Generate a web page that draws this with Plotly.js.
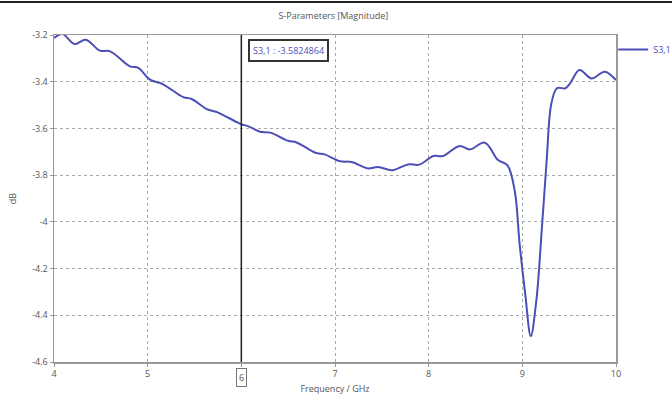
<!DOCTYPE html>
<html>
<head>
<meta charset="utf-8">
<script src="https://cdn.plot.ly/plotly-3.0.1.min.js"></script>
<style>html,body{margin:0;padding:0;background:#fff;}#chart{width:672px;height:400px;}</style>
</head>
<body>
<div id="chart"></div>
<script>
const freqGHz = [4.00, 4.09, 4.22, 4.34, 4.49, 4.60, 4.81, 4.90, 5.02, 5.16, 5.38, 5.47, 5.63, 5.74, 5.95, 6.00, 6.07, 6.20, 6.31, 6.50, 6.59, 6.79, 6.89, 7.05, 7.18, 7.35, 7.46, 7.61, 7.78, 7.90, 8.05, 8.15, 8.33, 8.44, 8.60, 8.74, 8.84, 8.92, 8.97, 9.03, 9.09, 9.15, 9.21, 9.26, 9.31, 9.37, 9.46, 9.51, 9.61, 9.74, 9.88, 10.00];
const s31dB = [-3.213, -3.196, -3.239, -3.220, -3.267, -3.270, -3.334, -3.341, -3.390, -3.410, -3.466, -3.474, -3.517, -3.530, -3.573, -3.5825, -3.590, -3.614, -3.618, -3.653, -3.660, -3.704, -3.711, -3.740, -3.744, -3.771, -3.765, -3.779, -3.754, -3.755, -3.718, -3.718, -3.675, -3.690, -3.661, -3.735, -3.757, -3.870, -4.090, -4.305, -4.489, -4.335, -4.020, -3.735, -3.493, -3.428, -3.428, -3.407, -3.350, -3.386, -3.357, -3.393];
const xTicks = [4, 5, 6, 7, 8, 9, 10];
const yTicks = [-3.2, -3.4, -3.6, -3.8, -4, -4.2, -4.4, -4.6];
const seriesName = "S3,1";
const markerFreq = 6;
const markerLabel = "S3,1 : -3.5824864";

const lineColor = "#4b4fb5";
const fontFam = "Open Sans, DejaVu Sans, sans-serif";

const trace = {
  x: freqGHz, y: s31dB, type: "scatter", mode: "lines", name: seriesName,
  line: {color: lineColor, width: 2, shape: "spline", smoothing: 1}
};

const layout = {
  width: 672, height: 400,
  margin: {l: 54, r: 56, t: 35, b: 38, autoexpand: false},
  paper_bgcolor: "#fff", plot_bgcolor: "#fff",
  font: {family: fontFam, size: 9, color: "#555"},
  title: {text: "S-Parameters [Magnitude]", x: 0.496, xanchor: "center", y: 0.96, yanchor: "middle", font: {size: 9, color: "#555"}},
  showlegend: true,
  legend: {x: 0.995, y: 1.0, xanchor: "left", yanchor: "top", font: {size: 9, color: "#4b4fb5"}, bgcolor: "rgba(0,0,0,0)", itemwidth: 30, tracegroupgap: 0},
  xaxis: {
    range: [4, 10], tickvals: xTicks, ticktext: xTicks.map(v => v === markerFreq ? "" : String(v)),
    showgrid: true, gridcolor: "#aaa", griddash: "dot", gridwidth: 1,
    showline: true, linecolor: "#999", linewidth: 1.5, mirror: true,
    ticks: "outside", ticklen: 3, tickcolor: "#999", zeroline: false,
    tickfont: {size: 9, color: "#555"},
    title: {text: "Frequency / GHz", font: {size: 9, color: "#555"}, standoff: 6}
  },
  yaxis: {
    range: [-4.6, -3.2], tickvals: yTicks, ticktext: yTicks.map(String),
    showgrid: true, gridcolor: "#aaa", griddash: "dot", gridwidth: 1,
    showline: true, linecolor: "#999", linewidth: 1.5, mirror: true,
    ticks: "outside", ticklen: 3, tickcolor: "#999", zeroline: false,
    tickfont: {size: 9, color: "#555"},
    title: {text: "dB", font: {size: 9, color: "#555"}, standoff: 14}
  },
  shapes: [
    {type: "line", xref: "x", yref: "paper", x0: markerFreq, x1: markerFreq, y0: 0, y1: 1, line: {color: "#222", width: 1.5}},
    {type: "line", xref: "paper", yref: "paper", x0: -0.2, x1: 1.2, y0: 1.101, y1: 1.101, line: {color: "#222", width: 2}}
  ],
  annotations: [
    {x: markerFreq + 0.07, xref: "x", xanchor: "left", y: 0.952, yref: "paper", yanchor: "middle",
     text: markerLabel, showarrow: false, font: {size: 9, color: lineColor},
     bgcolor: "#fff", bordercolor: "#333", borderwidth: 2, borderpad: 3},
    {x: markerFreq, xref: "x", xanchor: "center", y: -0.046, yref: "paper", yanchor: "middle",
     text: String(markerFreq), showarrow: false, font: {size: 9, color: "#555"},
     bgcolor: "#fff", bordercolor: "#777", borderwidth: 1, borderpad: 2}
  ]
};

Plotly.newPlot("chart", [trace], layout, {staticPlot: true, displayModeBar: false});
</script>
</body>
</html>
